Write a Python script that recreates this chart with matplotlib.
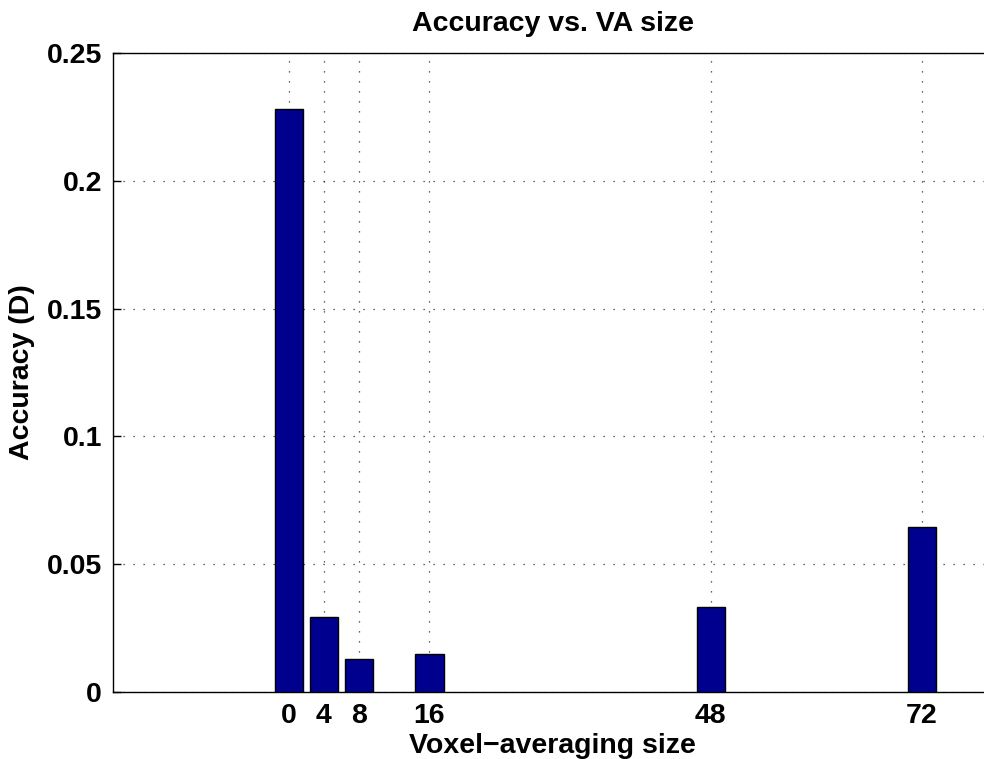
import numpy as np
import matplotlib.pyplot as plt

plt.rcParams['font.family'] = ['Liberation Sans', 'DejaVu Sans']
plt.rcParams['font.weight'] = 'bold'

# data
va_size = [0, 4, 8, 16, 48, 72]
accuracy = [0.228, 0.0295, 0.0130, 0.0148, 0.0334, 0.0644]
yticks = [0, 0.05, 0.1, 0.15, 0.2, 0.25]
ytick_labels = ['0', '0.05', '0.1', '0.15', '0.2', '0.25']

fig = plt.figure(figsize=(9.84, 7.59), dpi=100)
# axes in pixel terms: left 113, bottom 692, top 53, extends past right edge
ax = fig.add_axes([113/984, (759-692)/759, 879/984, (692-53)/759])

ax.bar(va_size, accuracy, width=3.2, color='#00008F', edgecolor='black',
       linewidth=1.0, zorder=3)

ax.set_xlim(-20, 80)
ax.set_ylim(0, 0.25)
ax.set_xticks(va_size)
ax.set_xticklabels([str(v) for v in va_size])
ax.set_yticks(yticks)
ax.set_yticklabels(ytick_labels)
ax.tick_params(direction='in', labelsize=20.5, length=6, width=1, pad=8)
ax.grid(True, linestyle=(0, (1, 7)), color='#333333', linewidth=0.9, zorder=0)
ax.set_axisbelow(True)
for s in ['left', 'bottom', 'top']:
    ax.spines[s].set_linewidth(1.0)
ax.spines['right'].set_visible(False)

ax.set_title('Accuracy vs. VA size', fontsize=20.5, fontweight='bold', pad=16)
ax.set_xlabel('Voxel\u2212averaging size', fontsize=20.5, fontweight='bold', labelpad=3)
ax.set_ylabel('Accuracy (D)', fontsize=20.5, fontweight='bold', labelpad=8)

fig.savefig('out.png', dpi=100)
